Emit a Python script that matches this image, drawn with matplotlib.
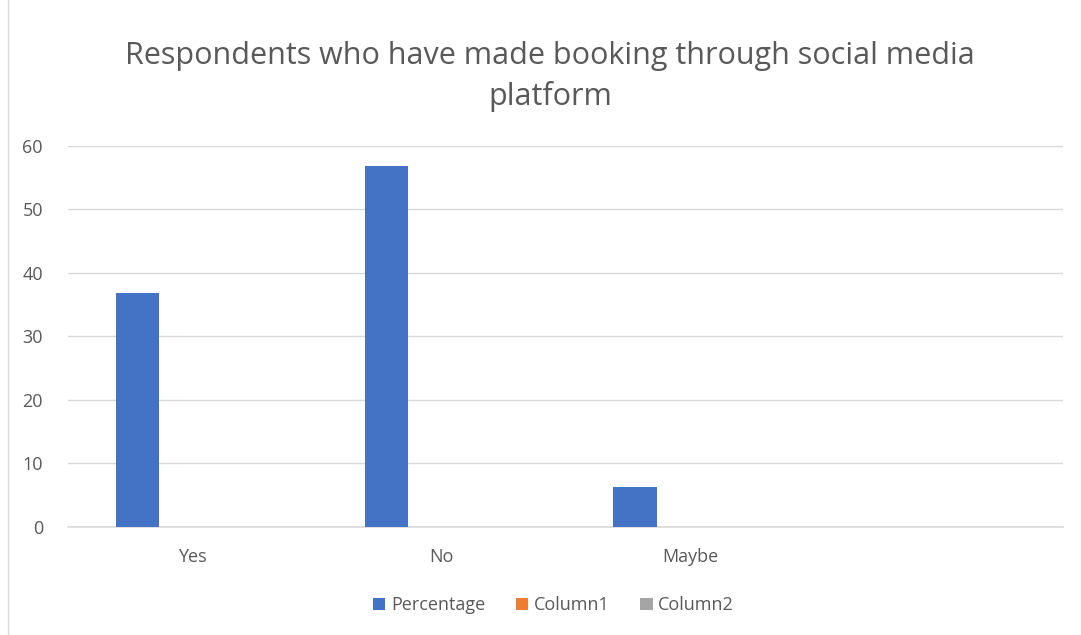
import matplotlib
matplotlib.use("Agg")
from matplotlib import pyplot as plt
from matplotlib.lines import Line2D
from matplotlib.patches import Patch
import numpy as np

plt.rcParams['font.family'] = ['Open Sans', 'DejaVu Sans']

# survey answers (fourth slot is an empty category)
categories = ["Yes", "No", "Maybe", ""]
percentage = [36.8, 56.8, 6.3, 0]
column1 = [0, 0, 0, 0]
column2 = [0, 0, 0, 0]
series_names = ["Percentage", "Column1", "Column2"]
colors = ["#4472C4", "#ED7D31", "#A5A5A5"]

fig = plt.figure(figsize=(10.81, 6.35), dpi=100)
ax = fig.add_axes([0.0629, 0.1706, 0.9205, 0.6000])

x = np.arange(len(categories))
w = 0.174
step = 0.221
for i, vals in enumerate([percentage, column1, column2]):
    ax.bar(x + (i - 1) * step, vals, width=w, color=colors[i], linewidth=0, zorder=3)

ax.set_xlim(-0.5, len(categories) - 0.5)
ax.set_ylim(0, 60)
ax.set_yticks(range(0, 61, 10))
ax.set_xticks(x)
ax.set_xticklabels(categories)
ax.yaxis.grid(True, color="#d9d9d9", linewidth=1, zorder=0)
for s in ["top", "right", "left"]:
    ax.spines[s].set_visible(False)
ax.spines["bottom"].set_color("#d9d9d9")
ax.spines["bottom"].set_linewidth(1.2)
ax.tick_params(axis="both", length=0, labelsize=13, colors="#595959")
ax.tick_params(axis="x", pad=15)
ax.tick_params(axis="y", pad=18)

fig.text(0.509, 0.880, "Respondents who have made booking through social media\nplatform",
         ha="center", va="center", fontsize=22, color="#595959", linespacing=1.42)

handles = [Patch(facecolor=c, edgecolor="none") for c in colors]
fig.legend(handles, series_names, loc="center", bbox_to_anchor=(0.512, 0.047), ncol=3,
           frameon=False, fontsize=13, labelcolor="#595959", handlelength=0.7,
           handleheight=0.7, handletextpad=0.3, columnspacing=1.7)

# chart area border on the left
fig.add_artist(Line2D([0.0075, 0.0075], [0, 1], transform=fig.transFigure,
                      color="#d9d9d9", linewidth=1))

fig.savefig("out.png", dpi=100)
